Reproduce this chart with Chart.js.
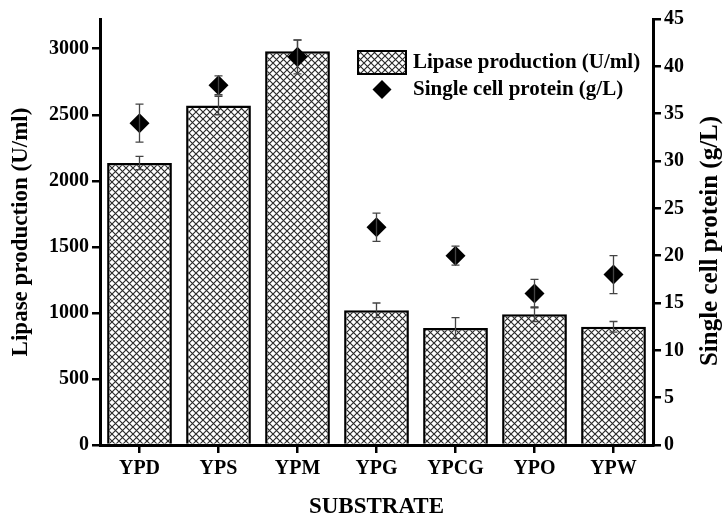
<!DOCTYPE html>
<html>
<head>
<meta charset="utf-8">
<script src="https://cdn.jsdelivr.net/npm/chart.js@4"></script>
<style>
  html, body { margin: 0; padding: 0; background: #fff; }
  #wrap { width: 724px; height: 517px; }
</style>
</head>
<body>
<div id="wrap"><canvas id="chart" width="724" height="517"></canvas></div>
<script>
// data
const substrates = ['YPD', 'YPS', 'YPM', 'YPG', 'YPCG', 'YPO', 'YPW'];
const lipase = [2135, 2570, 2980, 1020, 885, 990, 895];
const lipaseErr = [50, 70, 85, 55, 80, 55, 40];
const protein = [34, 38, 41, 23, 20, 16, 18];
const proteinErr = [2, 1, 1.8, 1.5, 1, 1.5, 2];
const lipaseTicks = [0, 500, 1000, 1500, 2000, 2500, 3000];
const proteinTicks = [0, 5, 10, 15, 20, 25, 30, 35, 40, 45];

const FONT = '"Liberation Serif", "Times New Roman", serif';

const canvas = document.getElementById('chart');
const ctx = canvas.getContext('2d');

// crosshatch tile for the bars
function makeHatch() {
    const s = 7;
    const tile = document.createElement('canvas');
    tile.width = s; tile.height = s;
    const t = tile.getContext('2d');
    t.fillStyle = '#fff';
    t.fillRect(0, 0, s, s);
    t.strokeStyle = '#2a2a2a';
    t.lineWidth = 1.15;
    t.beginPath();
    t.moveTo(0, 0); t.lineTo(s, s);
    t.moveTo(0, s); t.lineTo(s, 0);
    t.stroke();
    return ctx.createPattern(tile, 'repeat');
}
const hatch = makeHatch();

// error bars, drawn right after the dataset they belong to
const errorBars = {
    id: 'errorBars',
    afterDatasetDraw(chart, args) {
        const errs = args.index === 0 ? lipaseErr : proteinErr;
        const vals = args.index === 0 ? lipase : protein;
        const yScale = chart.scales[args.index === 0 ? 'y' : 'y1'];
        const meta = chart.getDatasetMeta(args.index);
        const c = chart.ctx;
        c.save();
        c.strokeStyle = '#444';
        c.lineWidth = 1.3;
        meta.data.forEach((el, i) => {
            const x = el.x;
            const top = yScale.getPixelForValue(vals[i] + errs[i]);
            const bot = yScale.getPixelForValue(vals[i] - errs[i]);
            c.beginPath();
            c.moveTo(x, top); c.lineTo(x, bot);
            c.moveTo(x - 4, top); c.lineTo(x + 4, top);
            c.moveTo(x - 4, bot); c.lineTo(x + 4, bot);
            c.stroke();
        });
        c.restore();
    }
};

// axis titles and the legend box
const decorations = {
    id: 'decorations',
    afterDraw(chart) {
        const c = chart.ctx;
        const area = chart.chartArea;
        const midY = (area.top + area.bottom) / 2;
        c.save();
        c.fillStyle = '#000';
        c.textAlign = 'center';
        c.textBaseline = 'middle';

        c.font = 'bold 23px ' + FONT;
        c.save();
        c.translate(21, midY);
        c.rotate(-Math.PI / 2);
        c.fillText('Lipase production (U/ml)', 0, 0);
        c.restore();

        c.font = 'bold 25px ' + FONT;
        c.save();
        c.translate(711, midY + 9);
        c.rotate(-Math.PI / 2);
        c.fillText('Single cell protein (g/L)', 0, 0);
        c.restore();

        c.font = 'bold 23px ' + FONT;
        c.fillText('SUBSTRATE', (area.left + area.right) / 2, 507);

        // legend
        c.fillStyle = hatch;
        c.fillRect(358, 51, 48, 23);
        c.strokeStyle = '#000';
        c.lineWidth = 2;
        c.strokeRect(358, 51, 48, 23);

        c.fillStyle = '#000';
        c.beginPath();
        c.moveTo(382, 80); c.lineTo(391.5, 89.5); c.lineTo(382, 99); c.lineTo(372.5, 89.5);
        c.closePath();
        c.fill();

        c.textAlign = 'left';
        c.font = 'bold 21px ' + FONT;
        c.fillText('Lipase production (U/ml)', 413, 63);
        c.fillText('Single cell protein (g/L)', 413, 90);
        c.restore();
    }
};

const tickFont = { family: FONT, size: 20, weight: 'bold' };

new Chart(ctx, {
    type: 'bar',
    data: {
        labels: substrates,
        datasets: [{
            label: 'Lipase production (U/ml)',
            data: lipase,
            yAxisID: 'y',
            backgroundColor: hatch,
            borderColor: '#000',
            borderWidth: 2.5,
            barPercentage: 0.82,
            categoryPercentage: 1,
            order: 2
        }, {
            type: 'line',
            label: 'Single cell protein (g/L)',
            data: protein,
            yAxisID: 'y1',
            showLine: false,
            pointStyle: 'rectRot',
            pointRadius: 10,
            pointBackgroundColor: '#000',
            pointBorderColor: '#000',
            pointBorderWidth: 0,
            order: 1
        }]
    },
    options: {
        responsive: false,
        animation: false,
        events: [],
        layout: { padding: { top: 19, left: 0, right: 0, bottom: 0 } },
        plugins: { legend: { display: false }, tooltip: { enabled: false } },
        scales: {
            x: {
                grid: { offset: false, drawOnChartArea: false, drawTicks: true, tickLength: 8, color: '#000', lineWidth: 2.5 },
                border: { color: '#000', width: 3 },
                ticks: { color: '#000', font: tickFont, padding: 4 },
                afterFit(scale) { scale.height = 72; }
            },
            y: {
                position: 'left',
                min: 0,
                max: 3225,
                grid: { drawOnChartArea: false, drawTicks: true, tickLength: 8, color: '#000', lineWidth: 2.5 },
                border: { color: '#000', width: 3 },
                ticks: { color: '#000', font: tickFont, padding: 3, callback: v => String(v) },
                afterBuildTicks(scale) { scale.ticks = lipaseTicks.map(v => ({ value: v })); },
                afterFit(scale) { scale.width = 100; }
            },
            y1: {
                position: 'right',
                min: 0,
                max: 45,
                grid: { drawOnChartArea: false, drawTicks: true, tickLength: 8, color: '#000', lineWidth: 2.5 },
                border: { color: '#000', width: 3 },
                ticks: { color: '#000', font: tickFont, padding: 3, callback: v => String(v) },
                afterBuildTicks(scale) { scale.ticks = proteinTicks.map(v => ({ value: v })); },
                afterFit(scale) { scale.width = 71; }
            }
        }
    },
    plugins: [errorBars, decorations]
});
</script>
</body>
</html>
